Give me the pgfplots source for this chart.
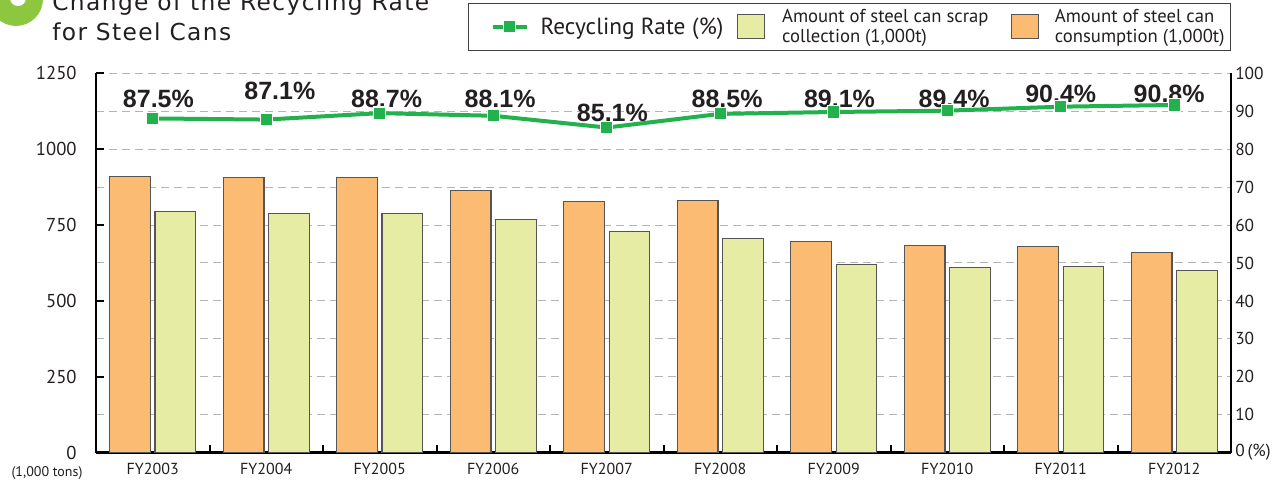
\documentclass[border=0pt]{standalone}
\usepackage{pgfplots}
\pgfplotsset{compat=1.18}
\usepackage{fontspec}
\setmainfont{PT Sans}
\newfontfamily\pctfont{Liberation Sans}
\newfontfamily\titlefont[LetterSpace=6]{DejaVu Sans}
\definecolor{barorange}{HTML}{FBBB73}
\definecolor{bargreen}{HTML}{E6ECA4}
\definecolor{barborder}{HTML}{555555}
\definecolor{linegreen}{HTML}{22B14C}
\definecolor{gridgray}{HTML}{B4B4B4}
\definecolor{txt}{HTML}{231F20}
\definecolor{titlegreen}{HTML}{8DC63F}
\pgfplotsset{
  lineleg/.style={legend image code/.code={\path (-12pt,0pt); \draw[mark repeat=2, mark phase=2, ##1] plot coordinates {(0pt,0pt) (12.75pt,0pt) (25.5pt,0pt)};}},
}
\begin{document}
\begin{tikzpicture}
\path[use as bounding box] (-72pt,-23.475pt) rectangle (893.25pt,339.525pt);
% title
\fill[titlegreen] (-60pt,340.3pt) circle (20.25pt);
\fill[white] (-58.5pt,341pt) circle (6pt);
\node[anchor=base west, inner sep=0pt, font=\titlefont\fontsize{17.5}{20}\selectfont, text=txt] at (-33pt,331.3pt) {Change of the Recycling Rate};
\node[anchor=base west, inner sep=0pt, font=\titlefont\fontsize{17.5}{20}\selectfont, text=txt] at (-33pt,308.8pt) {for Steel Cans};
\node[font=\fontsize{10.5}{12}\selectfont, text=txt, inner sep=0pt] at (-36.75pt,-15.2pt) {(1,000 tons)};
\begin{axis}[
  at={(0,0)}, anchor=south west,
  scale only axis, width=851.25pt, height=284.55pt,
  xmin=-0.5, xmax=9.5, ymin=0, ymax=1250,
  axis x line*=bottom, axis y line*=left,
  axis line style={-, line width=1.8pt, black},
  tick align=inside,
  major tick length=6pt, minor tick length=6pt,
  xtick={0,...,9},
  xticklabels={FY2003,FY2004,FY2005,FY2006,FY2007,FY2008,FY2009,FY2010,FY2011,FY2012},
  major x tick style={draw=none},
  minor xtick={0.5,1.5,...,8.5},
  minor x tick style={black, line width=1.5pt},
  ytick={0,250,500,750,1000,1250},
  yticklabels={0,250,500,750,1000,1250},
  minor ytick={125,375,625,875,1125},
  minor y tick style={draw=none},
  major y tick style={black, line width=1.5pt},
  ymajorgrids, yminorgrids,
  major grid style={gridgray, dash pattern=on 6pt off 3.75pt, line width=0.75pt},
  minor grid style={gridgray, dash pattern=on 6pt off 3.75pt, line width=0.75pt},
  xticklabel style={font=\fontsize{12}{14}\selectfont, text=txt, anchor=center, yshift=-12.2pt},
  yticklabel style={font=\fontsize{14}{16}\selectfont, text=txt, anchor=east, inner sep=0pt, xshift=-14.3pt},
  clip=false,
]
\addplot[ybar, bar width=0.36, bar shift=0pt, fill=barorange, draw=barborder, line width=0.8pt]
  coordinates {(-0.2,909) (0.8,906) (1.8,906) (2.8,865) (3.8,829) (4.8,831) (5.8,696) (6.8,682) (7.8,679) (8.8,661)};
\addplot[ybar, bar width=0.36, bar shift=0pt, fill=bargreen, draw=barborder, line width=0.8pt]
  coordinates {(0.2,794) (1.2,788) (2.2,788) (3.2,767) (4.2,729) (5.2,706) (6.2,620) (7.2,610) (8.2,613) (9.2,600)};
% rate labels (left-axis units = rate x 12.5)
\begin{scope}[every node/.style={anchor=base, inner sep=0pt, font=\pctfont\bfseries\fontsize{18.75}{20}\selectfont, text=txt}]
\node at (axis cs:0.05,1138.75) {87.5\%};
\node at (axis cs:1.12,1165) {87.1\%};
\node at (axis cs:2.06,1137.5) {88.7\%};
\node at (axis cs:3.06,1138.75) {88.1\%};
\node at (axis cs:4.05,1091.9) {85.1\%};
\node at (axis cs:5.06,1138.75) {88.5\%};
\node at (axis cs:6.05,1138.75) {89.1\%};
\node at (axis cs:7.06,1138.75) {89.4\%};
\node at (axis cs:8.0,1153.75) {90.4\%};
\node at (axis cs:8.955,1153.75) {90.8\%};
\end{scope}
\end{axis}
\begin{axis}[
  at={(0,0)}, anchor=south west,
  scale only axis, width=851.25pt, height=284.55pt,
  xmin=-0.5, xmax=9.5, ymin=0, ymax=100,
  axis x line=none, axis y line*=right,
  axis line style={-, line width=0.9pt, black},
  ytick={0,10,20,30,40,50,60,70,80,90,100},
  yticklabels={{0\,(\%)},10,20,30,40,50,60,70,80,90,100},
  major tick length=0pt,
  yticklabel style={font=\fontsize{13}{15}\selectfont, text=txt, anchor=west, inner sep=0pt, xshift=3pt},
  clip=false,
  legend columns=3,
  legend cell align=left,
  legend style={at={(1,1.1853)}, anchor=north east, draw=black!75, line width=0.8pt,
    inner xsep=4.5pt, inner ysep=2.5pt, text=txt,
    cells={align=left},
    nodes={inner xsep=0pt},
    /tikz/column 1/.style={column sep=9pt},
    /tikz/column 2/.style={column sep=10.5pt},
    /tikz/column 3/.style={column sep=12.75pt},
    /tikz/column 4/.style={column sep=17pt},
    /tikz/column 5/.style={column sep=12pt}},
]
\addplot[color=linegreen, line width=3pt, mark=square*, mark size=4.6pt,
  mark options={fill=linegreen, draw=white, line width=0.8pt}, lineleg]
  coordinates {(0,88.1) (1,87.8) (2,89.5) (3,88.8) (4,85.7) (5,89.3) (6,89.8) (7,90.15) (8,91.2) (9,91.65)};
\addlegendentry[font=\fontsize{17.5}{19}\selectfont]{Recycling Rate\hspace{5pt}(\%)}
\addlegendimage{legend image code/.code={\draw[fill=bargreen, draw=barborder, line width=0.8pt] (0pt,-9pt) rectangle (20pt,9pt);}}
\addlegendentry[font=\fontsize{14}{14.5}\selectfont]{Amount of steel can scrap\\collection (1,000t)}
\addlegendimage{legend image code/.code={\draw[fill=barorange, draw=barborder, line width=0.8pt] (0pt,-9pt) rectangle (20pt,9pt);}}
\addlegendentry[font=\fontsize{14}{14.5}\selectfont]{Amount of steel can\\consumption (1,000t)}
\end{axis}
\end{tikzpicture}
\end{document}
